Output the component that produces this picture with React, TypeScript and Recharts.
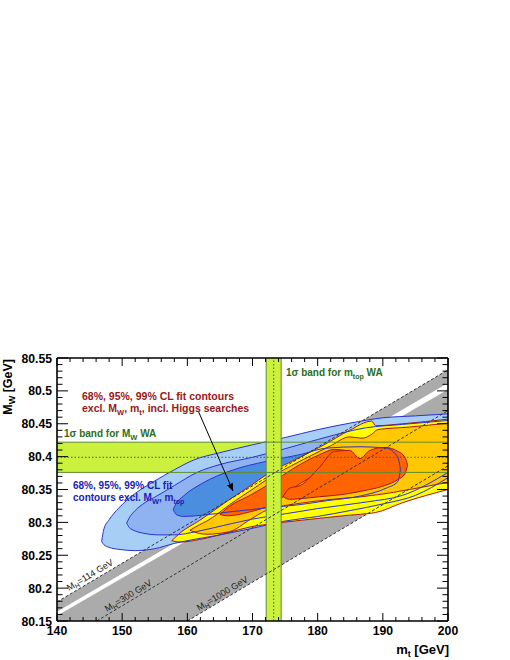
import React from 'react';
import { ComposedChart, Area, Line, XAxis, YAxis } from 'recharts';

// ---- axis ticks ----
const xTicks = [140,142,144,146,148,150,152,154,156,158,160,162,164,166,168,170,172,174,176,178,180,182,184,186,188,190,192,194,196,198,200];
const xMajor = [140,150,160,170,180,190,200];
const yTicks = [80.15,80.16,80.17,80.18,80.19,80.2,80.21,80.22,80.23,80.24,80.25,80.26,80.27,80.28,80.29,80.3,80.31,80.32,80.33,80.34,80.35,80.36,80.37,80.38,80.39,80.4,80.41,80.42,80.43,80.44,80.45,80.46,80.47,80.48,80.49,80.5,80.51,80.52,80.53,80.54,80.55];
const yMajor = [80.15,80.2,80.25,80.3,80.35,80.4,80.45,80.5,80.55];

// ---- contours: [mt, MW low, MW high] ----
const blue99: number[][] = [
  [146.85, 80.271, 80.271],[147.2, 80.266, 80.29],[148.0, 80.262, 80.304],[149.5, 80.259, 80.322],
  [152.0, 80.257, 80.344],[155.0, 80.26, 80.363],[158.0, 80.268, 80.38],[161.0, 80.274, 80.395],
  [165.0, 80.281, 80.406],[170.0, 80.291, 80.418],[175.0, 80.302, 80.429],[180.0, 80.309, 80.441],
  [185.0, 80.318, 80.451],[190.0, 80.328, 80.459],[195.0, 80.341, 80.462],[200.0, 80.368, 80.465],
];
const blue95: number[][] = [
  [150.69, 80.299, 80.299],[151.1, 80.292, 80.307],[152.0, 80.287, 80.318],[153.5, 80.283, 80.33],
  [155.3, 80.281, 80.34],[158.0, 80.281, 80.356],[161.4, 80.286, 80.3755],[165.0, 80.294, 80.388],
  [170.0, 80.305, 80.399],[175.0, 80.313, 80.412],[180.0, 80.321, 80.426],[187.5, 80.331, 80.444],
  [193.0, 80.341, 80.449],[200.0, 80.376, 80.455],
];
const blue68: number[][] = [
  [157.83, 80.3195, 80.3195],[158.3, 80.312, 80.329],[159.4, 80.309, 80.34],[162.4, 80.311, 80.36],
  [166.5, 80.316, 80.378],[172.2, 80.322, 80.393],[177.3, 80.327, 80.403],[181.4, 80.333, 80.413],
  [186.5, 80.34, 80.415],[190.5, 80.352, 80.413],[192.3, 80.362, 80.399],[192.7, 80.38, 80.38],
];
const yellow99: number[][] = [
  [157.6, 80.272, 80.272],[158.9, 80.27, 80.284],[161.9, 80.274, 80.303],[166.5, 80.285, 80.335],
  [169.6, 80.293, 80.355],[172.2, 80.297, 80.373],[177.3, 80.303, 80.399],[181.0, 80.307, 80.418],
  [184.9, 80.311, 80.44],[188.3, 80.314, 80.454],[188.9, 80.315, 80.447],[193.05, 80.33, 80.45],
  [200.0, 80.35, 80.457],
];
const orange95: number[][] = [
  [160.4, 80.288, 80.288],[161.9, 80.283, 80.2966],[163.0, 80.282, 80.302],[166.5, 80.286, 80.327],
  [169.6, 80.304, 80.3477],[172.2, 80.3187, 80.365],[177.3, 80.329, 80.393],[181.9, 80.3347, 80.416],
  [184.9, 80.3375, 80.43],[186.8, 80.339, 80.428],[188.3, 80.341, 80.434],[189.2, 80.342, 80.441],
  [194.1, 80.35, 80.445],[200.0, 80.361, 80.451],
];
const red68a: number[][] = [
  [165.0, 80.312, 80.312],[166.2, 80.31, 80.3225],[169.6, 80.316, 80.341],[172.7, 80.326, 80.359],
  [177.3, 80.359, 80.388],[180.3, 80.3775, 80.403],[182.6, 80.399, 80.411],[184.2, 80.4095, 80.4095],
];
const red68b: number[][] = [
  [174.7, 80.339, 80.339],[175.7, 80.335, 80.352],[177.3, 80.336, 80.356],[180.3, 80.339, 80.384],
  [182.6, 80.341, 80.408],[184.9, 80.344, 80.4095],[186.5, 80.347, 80.397],[188.0, 80.35, 80.4095],
  [190.3, 80.356, 80.414],[192.3, 80.365, 80.408],[193.4, 80.374, 80.399],[193.8, 80.387, 80.387],
];

// ---- SM band (MH = 114 ... 1000 GeV) and excluded stripe ----
const smBand: number[][] = [[140, 80.032, 80.179],[200, 80.386, 80.532]];
const smGap: number[][] = [[140, 80.158, 80.164],[200, 80.502, 80.512]];
const mh114: number[][] = [[140, 80.179],[200, 80.532]];
const mh300: number[][] = [[146.1, 80.15],[200, 80.47]];
const mh1000: number[][] = [[160, 80.15],[200, 80.386]];

// ---- world averages ----
const mwWA = 80.399, mwErr = 0.023;
const mtWA = 173.25, mtErr = 1.15;
const hBand: number[][] = [[140, mwWA - mwErr, mwWA + mwErr],[200, mwWA - mwErr, mwWA + mwErr]];
const vBand: number[][] = [[mtWA - mtErr, 80.15, 80.55],[mtWA + mtErr, 80.15, 80.55]];
const hLow: number[][] = [[140, mwWA - mwErr],[200, mwWA - mwErr]];
const hHigh: number[][] = [[140, mwWA + mwErr],[200, mwWA + mwErr]];
const hMid: number[][] = [[140, mwWA],[200, mwWA]];
const vLow: number[][] = [[mtWA - mtErr, 80.15],[mtWA - mtErr, 80.55]];
const vHigh: number[][] = [[mtWA + mtErr, 80.15],[mtWA + mtErr, 80.55]];
const vMid: number[][] = [[mtWA, 80.15],[mtWA, 80.55]];
const arrow: number[][] = [[161.67, 80.4695],[167.0, 80.348]];

const toRange = (rows: number[][]) => rows.map(([x, lo, hi]) => ({ x, r: [lo, hi] }));
const toLine = (rows: number[][]) => rows.map(([x, y]) => ({ x, y }));

const FONT = '"Liberation Sans", Arial, Helvetica, sans-serif';
const LIME = '#ccf03e';
const OLIVE = '#5e8c2c';
const BLUE_LINE = '#2833d2';
const RED_LINE = '#a8161b';

const isMajor = (v: number, list: number[]) => list.some((m) => Math.abs(m - v) < 1e-6);

const BottomTick = (p: any) => {
  const { x, y, payload } = p;
  const major = isMajor(payload.value, xMajor);
  return (
    <g>
      <line x1={x} x2={x} y1={y} y2={y - (major ? 8 : 4)} stroke="#000" strokeWidth={1} />
      {major && (
        <text x={x} y={y + 14} textAnchor="middle" fontFamily={FONT} fontWeight="bold" fontSize={12.2} fill="#000">
          {payload.value}
        </text>
      )}
    </g>
  );
};
const TopTick = (p: any) => {
  const { x, y, payload } = p;
  const major = isMajor(payload.value, xMajor);
  return <line x1={x} x2={x} y1={y} y2={y + (major ? 8 : 4)} stroke="#000" strokeWidth={1} />;
};
const LeftTick = (p: any) => {
  const { x, y, payload } = p;
  const major = isMajor(payload.value, yMajor);
  return (
    <g>
      <line x1={x} x2={x + (major ? 11 : 5.5)} y1={y} y2={y} stroke="#000" strokeWidth={1} />
      {major && (
        <text x={x - 5} y={y + 4.5} textAnchor="end" fontFamily={FONT} fontWeight="bold" fontSize={12.2} fill="#000">
          {String(payload.value)}
        </text>
      )}
    </g>
  );
};
const RightTick = (p: any) => {
  const { x, y, payload } = p;
  const major = isMajor(payload.value, yMajor);
  return <line x1={x} x2={x - (major ? 11 : 5.5)} y1={y} y2={y} stroke="#000" strokeWidth={1} />;
};

const axisLine = { stroke: '#000', strokeWidth: 1.6 };

export default function App() {
  const rangeArea = (key: string, rows: number[][], fill: string, stroke = 'none', type: any = 'monotone') => (
    <Area
      key={key}
      data={toRange(rows)}
      dataKey="r"
      type={type}
      fill={fill}
      fillOpacity={fill === 'none' ? 0 : 1}
      stroke={stroke}
      strokeWidth={1}
      dot={false}
      activeDot={false}
      isAnimationActive={false}
    />
  );
  const line = (key: string, rows: number[][], stroke: string, dash?: string, width = 1, extra: any = {}) => (
    <Line
      key={key}
      data={toLine(rows)}
      dataKey="y"
      type="linear"
      stroke={stroke}
      strokeWidth={width}
      strokeDasharray={dash}
      dot={false}
      activeDot={false}
      isAnimationActive={false}
      {...extra}
    />
  );

  return (
    <div style={{ position: 'absolute', left: 0, top: 0, width: 510, height: 660, background: '#fff' }}>
      <svg width={0} height={0} style={{ position: 'absolute' }}>
        <defs>
          <marker id="ah" markerWidth={8} markerHeight={8} refX={7.5} refY={4} orient="auto" markerUnits="userSpaceOnUse">
            <path d="M0,0.8 L8,4 L0,7.2 z" fill="#000" />
          </marker>
        </defs>
      </svg>
      <ComposedChart width={510} height={660} margin={{ top: 357, right: 61, bottom: 38, left: 56 }}>
        <XAxis dataKey="x" type="number" domain={[140, 200]} allowDataOverflow ticks={xTicks} interval={0}
          tick={<BottomTick />} tickLine={false} tickSize={0} tickMargin={0} height={1} axisLine={axisLine} />
        <XAxis xAxisId="top" orientation="top" dataKey="x" type="number" domain={[140, 200]} allowDataOverflow ticks={xTicks} interval={0}
          tick={<TopTick />} tickLine={false} tickSize={0} tickMargin={0} height={1} axisLine={axisLine} />
        <YAxis type="number" domain={[80.15, 80.55]} allowDataOverflow ticks={yTicks} interval={0}
          tick={<LeftTick />} tickLine={false} tickSize={0} tickMargin={0} width={1} axisLine={axisLine} />
        <YAxis yAxisId="right" orientation="right" type="number" domain={[80.15, 80.55]} allowDataOverflow ticks={yTicks} interval={0}
          tick={<RightTick />} tickLine={false} tickSize={0} tickMargin={0} width={1} axisLine={axisLine} />

        {rangeArea('hband', hBand, LIME, 'none', 'linear')}
        {rangeArea('sm', smBand, '#ababab', 'none', 'linear')}
        {rangeArea('gap', smGap, '#ffffff', 'none', 'linear')}
        {rangeArea('b99', blue99, '#a7cff6')}
        {rangeArea('b95', blue95, '#8fb3f0')}
        {rangeArea('b68', blue68, '#4b8ddf')}
        {rangeArea('y99', yellow99, '#ffff00', RED_LINE)}
        {rangeArea('o95', orange95, '#ffc800', RED_LINE)}
        {rangeArea('r68a', red68a, '#ff6400', RED_LINE)}
        {rangeArea('r68b', red68b, '#ff6400', RED_LINE)}
        {rangeArea('b99l', blue99, 'none', BLUE_LINE)}
        {rangeArea('b95l', blue95, 'none', BLUE_LINE)}
        {rangeArea('b68l', blue68, 'none', BLUE_LINE)}
        {rangeArea('vband', vBand, LIME, 'none', 'linear')}

        {line('hlow', hLow, OLIVE)}
        {line('hhigh', hHigh, OLIVE)}
        {line('hmid', hMid, '#3b6b1a', '1.5 2')}
        {line('vlow', vLow, OLIVE)}
        {line('vhigh', vHigh, OLIVE)}
        {line('vmid', vMid, '#3b6b1a', '1.5 2')}
        {line('mh114', mh114, '#333', '3 2')}
        {line('mh300', mh300, '#333', '3 2')}
        {line('mh1000', mh1000, '#333', '3 2')}
        {line('arrow', arrow, '#000', undefined, 1, { markerEnd: 'url(#ah)' })}
      </ComposedChart>

      <svg width={510} height={660} style={{ position: 'absolute', left: 0, top: 0, pointerEvents: 'none' }} fontFamily={FONT}>
        <text transform="translate(12,359) rotate(-90)" textAnchor="end" fontWeight="bold" fontSize={12.5} fill="#000">
          M<tspan dy={3} fontSize={9}>W</tspan><tspan dy={-3}> [GeV]</tspan>
        </text>
        <text x={449} y={654} textAnchor="end" fontWeight="bold" fontSize={13} fill="#000">
          m<tspan dy={3} fontSize={9}>t</tspan><tspan dy={-3}> [GeV]</tspan>
        </text>

        <text x={82} y={400} fontWeight="bold" fontSize={10.5} fill="#9a1616">68%, 95%, 99% CL fit contours</text>
        <text x={82} y={412} fontWeight="bold" fontSize={10.5} fill="#9a1616">
          excl. M<tspan dy={2.5} fontSize={7.5}>W</tspan><tspan dy={-2.5}>, m</tspan><tspan dy={2.5} fontSize={7.5}>t</tspan><tspan dy={-2.5}>, incl. Higgs searches</tspan>
        </text>

        <text x={64} y={437} fontWeight="bold" fontSize={10} fill="#2a6e1a">
          1σ band for M<tspan dy={2.5} fontSize={7.5}>W</tspan><tspan dy={-2.5}> WA</tspan>
        </text>
        <text x={286} y={376} fontWeight="bold" fontSize={10} fill="#2a6e1a">
          1σ band for m<tspan dy={2.5} fontSize={7}>top</tspan><tspan dy={-2.5}> WA</tspan>
        </text>

        <text x={73} y={489} fontWeight="bold" fontSize={10} fill="#1c1cb4">68%, 95%, 99% CL fit</text>
        <text x={73} y={501} fontWeight="bold" fontSize={10} fill="#1c1cb4">
          contours excl. M<tspan dy={2.5} fontSize={7.5}>W</tspan><tspan dy={-2.5}>, m</tspan><tspan dy={2.5} fontSize={7}>top</tspan>
        </text>

        <text transform="translate(69,591) rotate(-31)" fontSize={9} fill="#222">
          M<tspan dy={2} fontSize={6.5}>H</tspan><tspan dy={-2}>=114 GeV</tspan>
        </text>
        <text transform="translate(107,612) rotate(-31)" fontSize={9} fill="#222">
          M<tspan dy={2} fontSize={6.5}>H</tspan><tspan dy={-2}>=300 GeV</tspan>
        </text>
        <text transform="translate(199,611) rotate(-31)" fontSize={9} fill="#222">
          M<tspan dy={2} fontSize={6.5}>H</tspan><tspan dy={-2}>=1000 GeV</tspan>
        </text>
      </svg>
    </div>
  );
}
